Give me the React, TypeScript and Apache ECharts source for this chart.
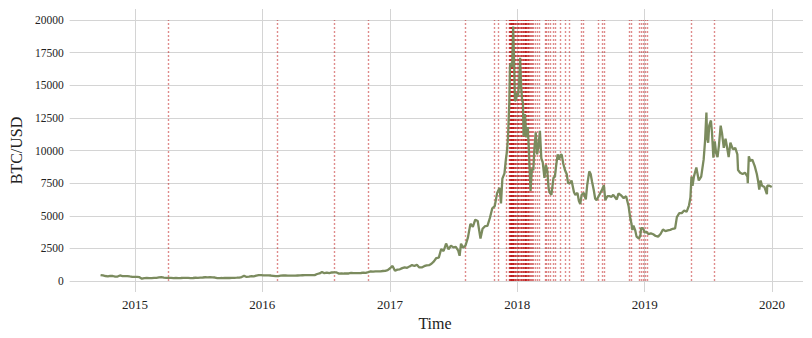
import React, { useEffect, useRef } from 'react';
import * as echarts from 'echarts';

const priceDates = [
  '2014-09-17','2014-09-24','2014-10-01','2014-10-08','2014-10-15','2014-10-22','2014-10-29','2014-11-05','2014-11-12','2014-11-19','2014-11-26','2014-12-03','2014-12-10','2014-12-17','2014-12-24','2014-12-31',
  '2015-01-07','2015-01-14','2015-01-21','2015-01-28','2015-02-04','2015-02-11','2015-02-18','2015-02-25','2015-03-04','2015-03-11','2015-03-18','2015-03-25','2015-04-01','2015-04-08','2015-04-15','2015-04-22','2015-04-29','2015-05-06','2015-05-13','2015-05-20','2015-05-27','2015-06-03','2015-06-10','2015-06-17','2015-06-24','2015-07-01','2015-07-08','2015-07-15','2015-07-22','2015-07-29','2015-08-05','2015-08-12','2015-08-19','2015-08-26','2015-09-02','2015-09-09','2015-09-16','2015-09-23','2015-09-30','2015-10-07','2015-10-14','2015-10-21','2015-10-28','2015-11-04','2015-11-11','2015-11-18','2015-11-25','2015-12-02','2015-12-09','2015-12-16','2015-12-23','2015-12-30',
  '2016-01-06','2016-01-13','2016-01-20','2016-01-27','2016-02-03','2016-02-10','2016-02-17','2016-02-24','2016-03-02','2016-03-09','2016-03-16','2016-03-23','2016-03-30','2016-04-06','2016-04-13','2016-04-20','2016-04-27','2016-05-04','2016-05-11','2016-05-18','2016-05-25','2016-06-01','2016-06-08','2016-06-15','2016-06-22','2016-06-29','2016-07-06','2016-07-13','2016-07-20','2016-07-27','2016-08-03','2016-08-10','2016-08-17','2016-08-24','2016-08-31','2016-09-07','2016-09-14','2016-09-21','2016-09-28','2016-10-05','2016-10-12','2016-10-19','2016-10-26','2016-11-02','2016-11-09','2016-11-16','2016-11-23','2016-11-30','2016-12-07','2016-12-14','2016-12-21','2016-12-28',
  '2017-01-04','2017-01-11','2017-01-18','2017-01-25','2017-02-01','2017-02-08','2017-02-15','2017-02-22','2017-03-01','2017-03-08','2017-03-15','2017-03-22','2017-03-29','2017-04-05','2017-04-12','2017-04-19','2017-04-26','2017-05-03','2017-05-10','2017-05-17','2017-05-24','2017-05-31','2017-06-07','2017-06-14','2017-06-21','2017-06-28','2017-07-05','2017-07-12','2017-07-16','2017-07-20','2017-07-26','2017-08-02','2017-08-09','2017-08-16','2017-08-23','2017-08-30','2017-09-06','2017-09-14','2017-09-20','2017-09-27','2017-10-04','2017-10-11','2017-10-18','2017-10-25','2017-11-01','2017-11-08','2017-11-12','2017-11-16','2017-11-22','2017-11-26','2017-11-29','2017-12-02','2017-12-06','2017-12-08','2017-12-11','2017-12-14','2017-12-17','2017-12-20','2017-12-22','2017-12-25','2017-12-28','2017-12-31',
  '2018-01-03','2018-01-06','2018-01-09','2018-01-12','2018-01-14','2018-01-16','2018-01-17','2018-01-20','2018-01-24','2018-01-28','2018-01-31','2018-02-02','2018-02-05','2018-02-09','2018-02-13','2018-02-16','2018-02-20','2018-02-24','2018-02-28','2018-03-04','2018-03-08','2018-03-12','2018-03-17','2018-03-21','2018-03-25','2018-03-29','2018-04-01','2018-04-06','2018-04-12','2018-04-16','2018-04-20','2018-04-24','2018-04-28','2018-05-03','2018-05-06','2018-05-10','2018-05-15','2018-05-20','2018-05-24','2018-05-29','2018-06-03','2018-06-10','2018-06-14','2018-06-20','2018-06-24','2018-06-28','2018-07-02','2018-07-08','2018-07-14','2018-07-18','2018-07-24','2018-07-28','2018-08-01','2018-08-06','2018-08-10','2018-08-14','2018-08-18','2018-08-24','2018-08-30','2018-09-04','2018-09-08','2018-09-14','2018-09-20','2018-09-26','2018-10-01','2018-10-11','2018-10-16','2018-10-24','2018-10-31','2018-11-07','2018-11-14','2018-11-19','2018-11-22','2018-11-25','2018-11-28','2018-12-03','2018-12-07','2018-12-14','2018-12-18','2018-12-20','2018-12-24','2018-12-28','2018-12-31',
  '2019-01-03','2019-01-10','2019-01-17','2019-01-24','2019-01-31','2019-02-07','2019-02-14','2019-02-21','2019-02-28','2019-03-07','2019-03-14','2019-03-21','2019-03-28','2019-04-02','2019-04-09','2019-04-16','2019-04-23','2019-04-30','2019-05-07','2019-05-11','2019-05-14','2019-05-17','2019-05-21','2019-05-28','2019-06-04','2019-06-11','2019-06-18','2019-06-22','2019-06-26','2019-06-28','2019-07-01','2019-07-04','2019-07-09','2019-07-12','2019-07-16','2019-07-20','2019-07-24','2019-07-28','2019-08-01','2019-08-06','2019-08-10','2019-08-15','2019-08-20','2019-08-25','2019-08-29','2019-09-03','2019-09-10','2019-09-17','2019-09-23','2019-09-25','2019-10-01','2019-10-08','2019-10-15','2019-10-22','2019-10-23','2019-10-26','2019-10-30','2019-11-05','2019-11-12','2019-11-18','2019-11-22','2019-11-25','2019-11-29','2019-12-03','2019-12-10','2019-12-17','2019-12-18','2019-12-24','2019-12-31'
];

const priceValues = [
  457,423,383,352,395,383,335,339,423,380,367,375,347,320,322,320,
  294,178,228,235,227,220,243,237,274,296,256,247,247,245,219,235,226,229,242,234,237,225,229,249,243,257,269,286,277,289,281,267,225,226,228,238,229,230,236,246,253,266,304,403,311,335,366,360,415,455,443,426,
  431,432,420,395,369,381,416,424,423,413,416,418,416,422,425,442,446,447,454,454,450,536,582,693,596,640,612,652,665,655,565,592,573,580,575,614,609,597,605,612,637,630,678,732,711,744,740,742,766,779,834,975,
  1154,778,872,894,987,1050,1010,1120,1222,1150,1250,1040,1040,1135,1200,1215,1320,1500,1760,1790,2450,2300,2870,2430,2710,2580,2610,2330,1930,2860,2560,2720,3340,4380,4150,4700,4600,3250,4000,4200,4220,4830,5570,5740,6750,7140,5950,7850,8250,9300,9900,10900,13700,16500,16700,16400,19500,16600,13800,13900,14400,14150,
  15200,17100,14900,13800,13700,11100,11200,12800,11000,11800,10200,8800,6900,8600,8500,10100,11400,9700,10400,11500,9400,9100,7900,8900,8500,7100,6800,6600,7900,8000,8900,9700,9300,9700,9650,9000,8500,8200,7500,7500,7700,6800,6600,6750,6150,5900,6600,6750,6250,7350,8400,8200,7600,6950,6300,6200,6400,6700,7000,7350,6200,6500,6500,6450,6600,6250,6700,6550,6350,6500,5750,4800,4450,3900,4250,3900,3400,3250,3500,4050,4050,3900,3700,
  3800,3600,3650,3580,3450,3400,3600,3950,3820,3880,3920,4000,4040,4900,5200,5200,5400,5300,5800,6400,8000,7300,8000,8700,7700,8000,9300,10700,12900,11000,10600,11900,12300,11400,9450,10700,9800,9500,10400,11900,11300,10200,10900,10150,9500,10600,10100,10200,9700,8500,8300,8200,8300,8000,7500,9550,9200,9300,8800,8200,7600,7000,7700,7300,7200,6650,7300,7300,7200
];

const eventDates = [
  '2015-04-01','2016-02-08','2016-07-21','2016-10-27','2017-08-01','2017-10-24','2017-11-05','2017-11-27',
  '2017-12-05','2017-12-07','2017-12-09','2017-12-10','2017-12-11','2017-12-12','2017-12-12','2017-12-14','2017-12-15','2017-12-16','2017-12-17','2017-12-18','2017-12-20','2017-12-22','2017-12-24','2017-12-26','2017-12-28','2017-12-31',
  '2018-01-02','2018-01-04','2018-01-06','2018-01-08','2018-01-10','2018-01-12','2018-01-14','2018-01-16','2018-01-18','2018-01-20','2018-01-21','2018-01-22','2018-01-24','2018-01-25','2018-01-26','2018-01-28','2018-01-30','2018-02-01','2018-02-04','2018-02-07','2018-02-11','2018-02-14','2018-02-18','2018-02-23',
  '2018-03-03','2018-03-18','2018-03-23','2018-03-29','2018-04-04','2018-04-10','2018-04-16','2018-05-01','2018-05-15','2018-05-27','2018-06-30','2018-07-08',
  '2018-08-20','2018-08-29','2018-09-06','2018-11-16','2018-11-22','2018-12-15','2018-12-21','2018-12-26','2019-01-01','2019-01-07','2019-05-14','2019-07-18'
];

function ts(d: string): number {
  const [y, m, dd] = d.split('-').map(Number);
  return Date.UTC(y, m - 1, dd);
}

const FONT = "'Liberation Serif', 'Times New Roman', serif";

export default function App() {
  const ref = useRef<HTMLDivElement>(null);
  useEffect(() => {
    const chart = echarts.init(ref.current!, null, { renderer: 'svg' });
    const t0 = Date.UTC(2015, 0, 1);
    const t1 = Date.UTC(2020, 0, 1);
    const msPerPx = (t1 - t0) / 637;
    const xMin = t0 - 68 * msPerPx;
    const xMax = t1 + 31 * msPerPx;
    chart.setOption({
      animation: false,
      useUTC: true,
      backgroundColor: '#ffffff',
      textStyle: { fontFamily: FONT },
      grid: [
        { left: 67, right: 9, top: 20, bottom: 57 },
        { left: 67, right: 9, top: 9, bottom: 46 },
      ],
      xAxis: [
        { type: 'time', gridIndex: 0, min: xMin, max: xMax, show: false },
        {
          type: 'time', gridIndex: 1, min: xMin, max: xMax, splitNumber: 5,
          axisLine: { show: false }, axisTick: { show: false },
          splitLine: { show: true, showMinLine: false, showMaxLine: false, lineStyle: { color: '#d4d4d4', width: 1 } },
          axisLabel: {
            formatter: (v: number) => String(new Date(v).getUTCFullYear()),
            color: '#222', fontFamily: FONT, fontSize: 13, margin: 6, showMinLabel: false, showMaxLabel: false,
          },
          name: 'Time', nameLocation: 'middle', nameGap: 22,
          nameTextStyle: { fontFamily: FONT, fontSize: 16, color: '#222' },
        },
      ],
      yAxis: [
        {
          type: 'value', gridIndex: 0, min: 0, max: 20000, interval: 2500,
          axisLine: { show: false }, axisTick: { show: false },
          splitLine: { show: true, lineStyle: { color: '#d4d4d4', width: 1 } },
          axisLabel: { formatter: (v: number) => String(v), color: '#222', fontFamily: FONT, fontSize: 11.5, margin: 6 },
          name: 'BTC/USD', nameLocation: 'middle', nameGap: 44,
          nameTextStyle: { fontFamily: FONT, fontSize: 16, color: '#222' },
        },
        { type: 'value', gridIndex: 1, min: 0, max: 1, show: false },
      ],
      series: [
        {
          type: 'line', xAxisIndex: 0, yAxisIndex: 0, data: [], z: 1, silent: true,
          markLine: {
            silent: true, symbol: 'none', animation: false, z: 1,
            label: { show: false },
            lineStyle: { color: 'rgba(185,0,0,0.45)', width: 1.4, type: [2, 2] },
            emphasis: { disabled: true },
            data: eventDates.map((d) => ({ xAxis: ts(d) })),
          },
        },
        {
          type: 'line', xAxisIndex: 0, yAxisIndex: 0, z: 10,
          data: priceDates.map((d, i) => [ts(d), priceValues[i]]),
          symbol: 'none', showSymbol: false,
          lineStyle: { color: '#7b8b5e', width: 2.3 },
        },
      ],
    });
    return () => chart.dispose();
  }, []);
  return <div ref={ref} style={{ position: 'absolute', left: 0, top: 0, width: 812, height: 338 }} />;
}
